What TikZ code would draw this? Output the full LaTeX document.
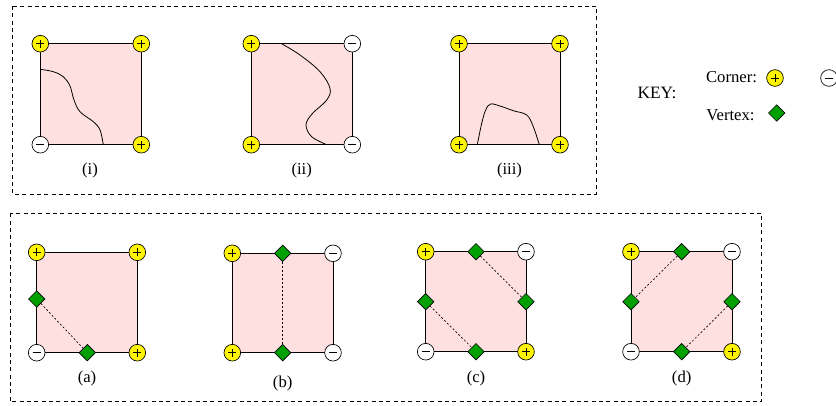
\documentclass[tikz,border=0pt]{standalone}
\usepackage{fontspec}
\setmainfont{Liberation Serif}
\usetikzlibrary{shapes.geometric}
\definecolor{sqfill}{RGB}{255,224,224}
\definecolor{posyellow}{RGB}{255,245,0}
\definecolor{vgreen}{RGB}{0,160,0}
\tikzset{
  sqr/.style={draw=black, fill=sqfill, line width=0.6pt},
  signbase/.style={circle, draw=black, minimum size=12.5pt, inner sep=0pt, line width=0.5pt},
  plusc/.style={signbase, fill=posyellow, path picture={
      \draw[line width=0.5pt] ([xshift=-3pt]path picture bounding box.center) -- ([xshift=3pt]path picture bounding box.center)
        ([yshift=-3pt]path picture bounding box.center) -- ([yshift=3pt]path picture bounding box.center);}},
  minusc/.style={signbase, fill=white, path picture={
      \draw[line width=0.5pt] ([xshift=-3pt]path picture bounding box.center) -- ([xshift=3pt]path picture bounding box.center);}},
  vtx/.style={diamond, draw=black, fill=vgreen, minimum size=12.5pt, inner sep=0pt, line width=0.5pt},
  cut/.style={line width=0.5pt, dash pattern=on 1.5pt off 1.5pt},
  frame/.style={line width=0.6pt, dash pattern=on 3pt off 2.5pt},
  curve/.style={line width=0.6pt},
  lbl/.style={font=\fontsize{12.5}{15}\selectfont, inner sep=0pt},
}
\newcommand\mycell[9]{%
  \draw[sqr] (#2,#3) rectangle (#4,#5);
  \node[#6] (#1tl) at (#2,#3) {};
  \node[#7] (#1tr) at (#4,#3) {};
  \node[#8] (#1bl) at (#2,#5) {};
  \node[#9] (#1br) at (#4,#5) {};
}
\begin{document}
\begin{tikzpicture}[x=0.75pt,y=-0.75pt]
\useasboundingbox (0,0) rectangle (836,405);
% frames
\draw[frame] (12.3,6) rectangle (596.7,194);
\draw[frame] (10,213.3) rectangle (761.7,401.7);

% (i)
\draw[sqr] (40.3,43.7) rectangle (141.3,144.7);
\draw[curve] plot[smooth, tension=0.6] coordinates {(40.3,69.3) (53.3,71.7) (63.3,76.7) (70,86) (74,100) (80,111.7) (93.3,121.7) (100,130) (103.3,144.7)};
\node[plusc] (itl) at (40.3,43.7) {};
\node[plusc] (itr) at (141.3,43.7) {};
\node[minusc] (ibl) at (40.3,144.7) {};
\node[plusc] (ibr) at (141.3,144.7) {};
\node[lbl] (ilab) at (90,170) {(i)};

% (ii)
\draw[sqr] (251.3,43.7) rectangle (352.3,144.7);
\draw[curve] plot[smooth, tension=0.6] coordinates {(281.5,43.7) (300,55) (320,71.7) (330,88.3) (326.7,100) (312,114) (306,125) (311.7,136.7) (326.7,144.7)};
\node[plusc] (iitl) at (251.3,43.7) {};
\node[minusc] (iitr) at (352.3,43.7) {};
\node[plusc] (iibl) at (251.3,144.7) {};
\node[minusc] (iibr) at (352.3,144.7) {};
\node[lbl] (iilab) at (301.7,170) {(ii)};

% (iii)
\draw[sqr] (459,43.7) rectangle (560,144.7);
\draw[curve] plot[smooth, tension=0.6] coordinates {(477.3,144.7) (481.7,123.3) (485.7,110) (490.5,104) (500,106) (513.3,110.7) (526.7,115) (533.3,126.7) (539.3,144.7)};
\node[plusc] (iiitl) at (459,43.7) {};
\node[plusc] (iiitr) at (560,43.7) {};
\node[plusc] (iiibl) at (459,144.7) {};
\node[plusc] (iiibr) at (560,144.7) {};
\node[lbl] (iiilab) at (509.5,170) {(iii)};

% key
\node[lbl, font=\fontsize{13}{15}\selectfont] (key) at (657,93) {KEY:};
\node[lbl] (kcorner) at (731.5,77) {Corner:};
\node[plusc] (kpos) at (775,78) {};
\node[minusc] (kneg) at (829,78) {};
\node[lbl] (kvertex) at (730.5,115) {Vertex:};
\node[vtx] (kvtx) at (776.7,113) {};

% (a)
\mycell{a}{36.7}{252.3}{137.3}{352.7}{plusc}{plusc}{minusc}{plusc}
\node[vtx] (al) at (36.7,299) {};
\node[vtx] (ab) at (87.3,352.7) {};
\draw[cut] (al) -- (ab);
\node[lbl] (alab) at (87,378) {(a)};

% (b)
\mycell{b}{232.3}{253.3}{333}{352.7}{plusc}{minusc}{plusc}{minusc}
\node[vtx] (bt) at (282.7,253.3) {};
\node[vtx] (bb) at (282.7,352.7) {};
\draw[cut] (bt) -- (bb);
\node[lbl] (blab) at (282.7,383) {(b)};

% (c)
\mycell{c}{425.7}{251.7}{526}{351.7}{plusc}{minusc}{minusc}{plusc}
\node[vtx] (ct) at (476,251.7) {};
\node[vtx] (cr) at (526,301.7) {};
\node[vtx] (cl) at (425.7,301.7) {};
\node[vtx] (cb) at (476,351.7) {};
\draw[cut] (ct) -- (cr);
\draw[cut] (cl) -- (cb);
\node[lbl] (clab) at (476,378) {(c)};

% (d)
\mycell{d}{631}{251.7}{732}{351.7}{plusc}{minusc}{minusc}{plusc}
\node[vtx] (dt) at (681.7,251.7) {};
\node[vtx] (dr) at (732,301.7) {};
\node[vtx] (dl) at (631,301.7) {};
\node[vtx] (db) at (681.7,351.7) {};
\draw[cut] (dt) -- (dl);
\draw[cut] (dr) -- (db);
\node[lbl] (dlab) at (681.7,378) {(d)};
\end{tikzpicture}
\end{document}
